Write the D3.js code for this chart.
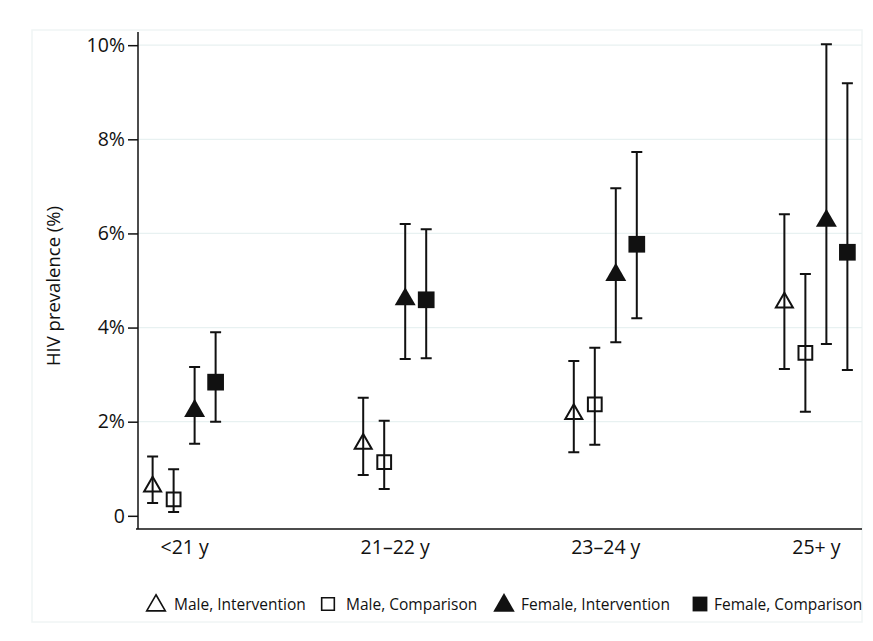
<!DOCTYPE html>
<html><head><meta charset="utf-8">
<script src="https://cdn.jsdelivr.net/npm/d3@7"></script>
<style>html,body{margin:0;padding:0;background:#fff;}svg{display:block;}</style>
</head><body>
<script>
const categories = ["<21 y", "21\u201322 y", "23\u201324 y", "25+ y"];
const seriesNames = ["Male, Intervention", "Male, Comparison", "Female, Intervention", "Female, Comparison"];
const maleInt = [0.62, 1.53, 2.16, 4.53];
const maleIntLo = [0.27, 0.87, 1.35, 3.12];
const maleIntHi = [1.26, 2.51, 3.29, 6.41];
const maleComp = [0.35, 1.14, 2.37, 3.46];
const maleCompLo = [0.08, 0.57, 1.51, 2.21];
const maleCompHi = [0.99, 2.02, 3.57, 5.14];
const femInt = [2.23, 4.60, 5.12, 6.27];
const femIntLo = [1.53, 3.33, 3.69, 3.65];
const femIntHi = [3.16, 6.20, 6.96, 10.02];
const femComp = [2.84, 4.59, 5.77, 5.60];
const femCompLo = [2.00, 3.35, 4.20, 3.10];
const femCompHi = [3.90, 6.09, 7.73, 9.19];
const yTicks = [0, 2, 4, 6, 8, 10];
const yTickLabels = ["0", "2%", "4%", "6%", "8%", "10%"];

(function () {
const series = [
  {name: seriesNames[0], v: maleInt, lo: maleIntLo, hi: maleIntHi, shape: "tri", filled: false},
  {name: seriesNames[1], v: maleComp, lo: maleCompLo, hi: maleCompHi, shape: "sq", filled: false},
  {name: seriesNames[2], v: femInt, lo: femIntLo, hi: femIntHi, shape: "tri", filled: true},
  {name: seriesNames[3], v: femComp, lo: femCompLo, hi: femCompHi, shape: "sq", filled: true}
];

const W = 873, H = 641;
const FONT = "'Open Sans', 'Noto Sans', sans-serif";
const INK = "#111";
const svg = d3.select("body").append("svg").attr("width", W).attr("height", H);
svg.append("rect").attr("width", W).attr("height", H).attr("fill", "#fff");
svg.append("rect").attr("x", 32).attr("y", 30).attr("width", 830).attr("height", 592)
  .attr("fill", "none").attr("stroke", "#f0f5f5").attr("stroke-width", 1.5);

const pL = 138, pR = 862, pT = 32, pB = 529;
const y = d3.scaleLinear().domain([-0.28, 10.28]).range([pB, pT]);
const x = d3.scalePoint().domain(categories).range([pL, pR]).padding(0.219);
const off = d3.scalePoint().domain(seriesNames).range([-31.5, 31.5]);

svg.append("g").selectAll("line").data(yTicks.filter(t => t > 0)).join("line")
  .attr("x1", pL).attr("x2", pR).attr("y1", d => y(d)).attr("y2", d => y(d))
  .attr("stroke", "#e8f1f1").attr("stroke-width", 1.2);

const yAxis = d3.axisLeft(y).tickValues(yTicks).tickSize(10).tickPadding(3)
  .tickFormat((d, i) => yTickLabels[i]);
const gy = svg.append("g").attr("transform", `translate(${pL},0)`).call(yAxis);
gy.select(".domain").attr("d", `M-0,${pT}V${pB}`).attr("stroke", INK).attr("stroke-width", 1.5);
gy.selectAll(".tick line").attr("stroke", INK).attr("stroke-width", 1.5);
gy.selectAll(".tick text").attr("font-family", FONT).attr("font-size", 19.5).attr("fill", INK);

const xAxis = d3.axisBottom(x).tickSize(0).tickPadding(11);
const gx = svg.append("g").attr("transform", `translate(0,${pB})`).call(xAxis);
gx.select(".domain").attr("d", `M${pL - 2},0H${pR}`).attr("stroke", INK).attr("stroke-width", 1.5);
gx.selectAll(".tick text").attr("font-family", FONT).attr("font-size", 19.5).attr("fill", INK);

svg.append("text").attr("transform", `translate(60,286) rotate(-90)`)
  .attr("text-anchor", "middle").attr("font-family", FONT).attr("font-size", 18.5)
  .attr("fill", INK).text("HIV prevalence (%)");

function symPath(shape, filled) {
  if (shape === "tri") return d3.symbol().type(d3.symbolTriangle).size(filled ? 190 : 125)();
  return d3.symbol().type(d3.symbolSquare).size(filled ? 279 : 190)();
}

const capW = 11;
series.forEach(s => {
  const g = svg.append("g");
  const pts = categories.map((c, i) => ({cx: x(c) + off(s.name), v: s.v[i], lo: s.lo[i], hi: s.hi[i]}));
  g.selectAll(".eb").data(pts).join("path")
    .attr("d", d => `M${d.cx},${y(d.lo)}V${y(d.hi)}M${d.cx - capW / 2},${y(d.lo)}H${d.cx + capW / 2}M${d.cx - capW / 2},${y(d.hi)}H${d.cx + capW / 2}`)
    .attr("stroke", INK).attr("stroke-width", 2).attr("fill", "none");
  g.selectAll(".mk").data(pts).join("path")
    .attr("d", symPath(s.shape, s.filled))
    .attr("transform", d => `translate(${d.cx},${y(d.v)})`)
    .attr("fill", s.filled ? INK : "none")
    .attr("stroke", INK).attr("stroke-width", s.filled ? 0 : 2);
});

const legendY = 604;
const legendItems = [
  {mx: 156, tx: 174}, {mx: 328, tx: 346}, {mx: 504, tx: 521}, {mx: 700, tx: 714}
];
const lg = svg.append("g");
series.forEach((s, i) => {
  const it = legendItems[i];
  const sz = s.shape === "tri" ? (s.filled ? 200 : 150) : (s.filled ? 220 : 160);
  const dy = s.shape === "tri" ? 1.5 : 0;
  lg.append("path")
    .attr("d", d3.symbol().type(s.shape === "tri" ? d3.symbolTriangle : d3.symbolSquare).size(sz)())
    .attr("transform", `translate(${it.mx},${legendY + dy})`)
    .attr("fill", s.filled ? INK : "none").attr("stroke", INK).attr("stroke-width", s.filled ? 0 : 1.6);
  lg.append("text").attr("x", it.tx).attr("y", legendY + 6)
    .attr("font-family", FONT).attr("font-size", 15.5).attr("fill", INK).text(s.name);
});
})();
</script>
</body></html>
